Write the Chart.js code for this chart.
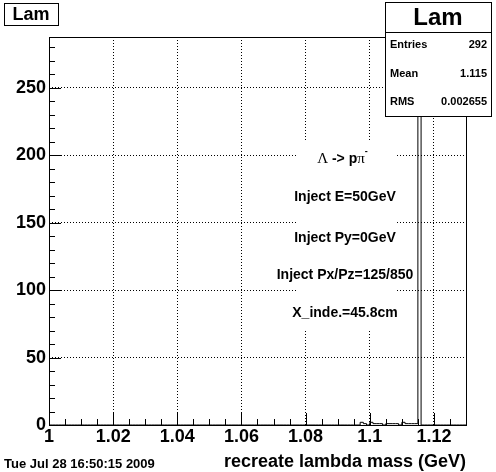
<!DOCTYPE html>
<html>
<head>
<meta charset="utf-8">
<script src="https://cdn.jsdelivr.net/npm/chart.js@4.4.1/dist/chart.umd.min.js"></script>
<style>
  html, body { margin: 0; padding: 0; background: #fff; }
  #wrap { width: 496px; height: 472px; }
</style>
</head>
<body>
<div id="wrap"><canvas id="histo" width="496" height="472"></canvas></div>
<script>
/* ---- data ---- */
const histName = 'Lam';
const xMin = 1, xMax = 1.13, binWidth = 0.001;
const yMax = 287.7;
const xTicks = [1, 1.02, 1.04, 1.06, 1.08, 1.1, 1.12];
const xTickLabels = ['1', '1.02', '1.04', '1.06', '1.08', '1.1', '1.12'];
const yTicks = [0, 50, 100, 150, 200, 250];
const yTickLabels = ['0', '50', '100', '150', '200', '250'];
// lower edge of every non-empty bin, and its content
const filledBins = [1.097, 1.098, 1.100, 1.101, 1.102, 1.103, 1.105, 1.106, 1.107, 1.108, 1.110, 1.111, 1.112, 1.113, 1.114, 1.115];
const binCounts  = [2, 1, 2, 1, 1, 1, 1, 1, 1, 1, 2, 1, 1, 1, 1, 274];
const statLabels = ['Entries', 'Mean', 'RMS'];
const statValues = ['292', '1.115', '0.002655'];
const noteLines = ['Inject E=50GeV', 'Inject Py=0GeV', 'Inject Px/Pz=125/850', 'X_inde.=45.8cm'];
const xTitle = 'recreate lambda mass (GeV)';
const dateStamp = 'Tue Jul 28 16:50:15 2009';

// full bin table (empty bins stay at zero)
const nBins = Math.round((xMax - xMin) / binWidth);
const counts = new Array(nBins).fill(0);
filledBins.forEach((b, i) => { counts[Math.round((b - xMin) / binWidth)] = binCounts[i]; });
const points = counts.map((c, i) => ({ x: xMin + i * binWidth, y: c }));
points.push({ x: xMax, y: counts[nBins - 1] });

const FONT = '"Liberation Sans", Arial, Helvetica, sans-serif';
const crisp = v => Math.round(v) + 0.5;

// ROOT-style frame, inward ticks, boxes and text
const rootDecor = {
  id: 'rootDecor',
  afterDatasetsDraw(chart) {
    const { ctx, chartArea: a, scales: { x, y } } = chart;
    ctx.save();
    // borderless white pave behind the annotation lines
    ctx.fillStyle = '#fff';
    ctx.fillRect(296, 140, 101, 189);
    ctx.strokeStyle = '#000';
    ctx.lineWidth = 1;
    ctx.beginPath();
    for (let v = xMin; v <= xMax + 1e-9; v += 0.005) {
      const major = xTicks.some(t => Math.abs(t - v) < 1e-6);
      const px = crisp(x.getPixelForValue(v));
      ctx.moveTo(px, a.bottom); ctx.lineTo(px, a.bottom - (major ? 12 : 6));
    }
    for (let v = 0; v <= yMax; v += 10) {
      const major = v % 50 === 0;
      const py = crisp(y.getPixelForValue(v));
      ctx.moveTo(a.left, py); ctx.lineTo(a.left + (major ? 12 : 6), py);
    }
    ctx.stroke();
    ctx.strokeRect(crisp(a.left), crisp(a.top), Math.round(a.right - a.left), Math.round(a.bottom - a.top));
    ctx.restore();
  },
  afterDraw(chart) {
    const { ctx } = chart;
    ctx.save();
    ctx.fillStyle = '#000';
    ctx.strokeStyle = '#000';
    ctx.lineWidth = 1;

    // title box
    ctx.fillStyle = '#fff';
    ctx.fillRect(4, 3, 54, 22);
    ctx.strokeRect(4.5, 3.5, 54, 22);
    ctx.fillStyle = '#000';
    ctx.font = 'bold 18px ' + FONT;
    ctx.textAlign = 'center';
    ctx.textBaseline = 'middle';
    ctx.fillText(histName, 31, 15);

    // stats box
    ctx.fillStyle = '#fff';
    ctx.fillRect(385, 2, 106, 114);
    ctx.strokeRect(385.5, 2.5, 106, 114);
    ctx.beginPath(); ctx.moveTo(385, 32.5); ctx.lineTo(491, 32.5); ctx.stroke();
    ctx.fillStyle = '#000';
    ctx.font = 'bold 24px ' + FONT;
    ctx.fillText(histName, 438, 18);
    ctx.font = 'bold 11px ' + FONT;
    const rowY = [45, 74, 102];
    statLabels.forEach((lab, i) => {
      ctx.textAlign = 'left';
      ctx.fillText(lab, 390, rowY[i]);
      ctx.textAlign = 'right';
      ctx.fillText(statValues[i], 487, rowY[i]);
    });

    // decay line: Λ -> pπ⁻ (greek in serif, rest bold sans)
    const parts = [
      ['Λ', '15px "Liberation Serif", serif'],
      [' -> p', 'bold 14px ' + FONT],
      ['π', '15px "Liberation Serif", serif']
    ];
    let total = 0;
    parts.forEach(p => { ctx.font = p[1]; total += ctx.measureText(p[0]).width; });
    let cx = 343 - (total + 4) / 2;
    ctx.textAlign = 'left';
    parts.forEach(p => { ctx.font = p[1]; ctx.fillText(p[0], cx, 159); cx += ctx.measureText(p[0]).width; });
    ctx.font = 'bold 9px ' + FONT;
    ctx.fillText('-', cx, 152);

    // injection notes
    ctx.font = 'bold 14px ' + FONT;
    ctx.textAlign = 'center';
    const noteY = [197, 238, 275, 313];
    noteLines.forEach((t, i) => ctx.fillText(t, 345, noteY[i]));

    // axis title and date
    ctx.font = 'bold 18px ' + FONT;
    ctx.textAlign = 'right';
    ctx.fillText(xTitle, 466, 462);
    ctx.font = 'bold 13px ' + FONT;
    ctx.textAlign = 'left';
    ctx.fillText(dateStamp, 4, 464);
    ctx.restore();
  }
};

new Chart(document.getElementById('histo').getContext('2d'), {
  type: 'line',
  data: {
    datasets: [{
      data: points,
      stepped: true,
      borderColor: '#000',
      borderWidth: 1,
      pointRadius: 0,
      fill: false
    }]
  },
  options: {
    responsive: false,
    animation: false,
    layout: { padding: { left: 0, top: 37, right: 30, bottom: 0 } },
    plugins: { legend: { display: false }, tooltip: { enabled: false } },
    scales: {
      x: {
        type: 'linear', min: xMin, max: xMax,
        afterFit: s => { s.height = 47; },
        afterBuildTicks: s => { s.ticks = xTicks.map(v => ({ value: v })); },
        grid: { color: '#000', lineWidth: 1, drawTicks: false },
        border: { display: false, dash: [1, 2] },
        ticks: {
          padding: 1, color: '#000', maxRotation: 0, autoSkip: false,
          font: { family: FONT, size: 18, weight: 'bold' },
          callback: (v, i) => xTickLabels[i]
        }
      },
      y: {
        min: 0, max: yMax,
        afterFit: s => { s.width = 49; },
        afterBuildTicks: s => { s.ticks = yTicks.map(v => ({ value: v })); },
        grid: { color: '#000', lineWidth: 1, drawTicks: false },
        border: { display: false, dash: [1, 2] },
        ticks: {
          padding: 3, color: '#000',
          font: { family: FONT, size: 18, weight: 'bold' },
          callback: (v, i) => yTickLabels[i]
        }
      }
    }
  },
  plugins: [rootDecor]
});
</script>
</body>
</html>
